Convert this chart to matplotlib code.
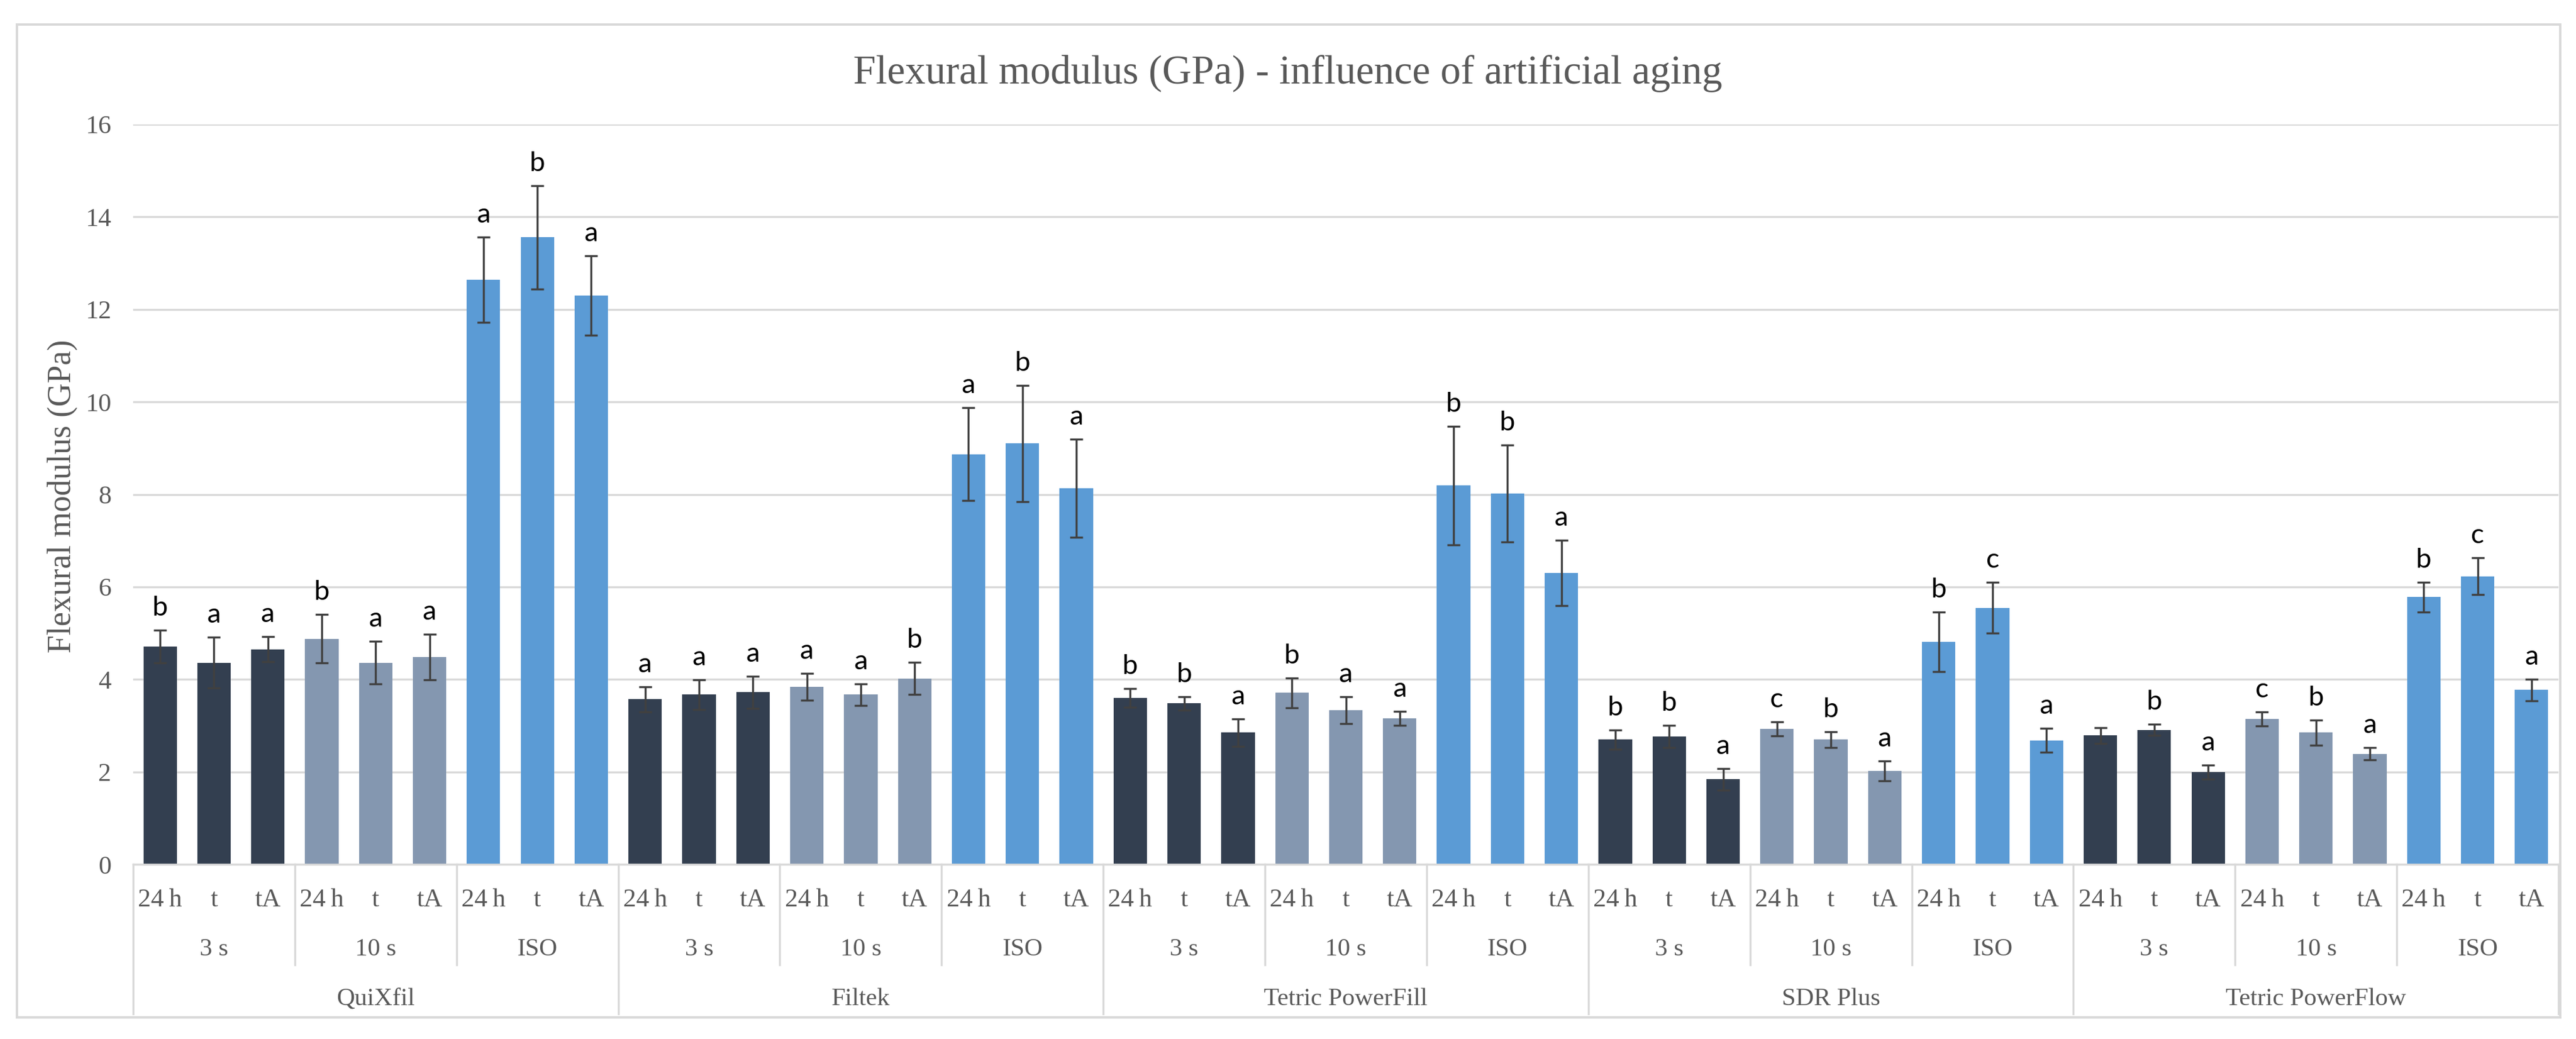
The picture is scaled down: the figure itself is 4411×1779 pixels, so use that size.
import numpy as np
import matplotlib
matplotlib.use("Agg")
import matplotlib.pyplot as plt
import matplotlib.patches as patches
import matplotlib.transforms as mtransforms

# Chart data
materials = ["QuiXfil", "Filtek", "Tetric PowerFill", "SDR Plus", "Tetric PowerFlow"]
curing = ["3 s", "10 s", "ISO"]
aging = ["24\u2009h", "t", "tA"]

# mean flexural modulus (GPa), order: 3 s (24h, t, tA), 10 s (...), ISO (...)
quixfil = [4.71, 4.36, 4.65, 4.88, 4.36, 4.48, 12.64, 13.56, 12.30]
filtek = [3.57, 3.67, 3.72, 3.84, 3.67, 4.02, 8.87, 9.10, 8.13]
powerfill = [3.60, 3.48, 2.85, 3.71, 3.33, 3.16, 8.19, 8.02, 6.30]
sdr_plus = [2.70, 2.76, 1.84, 2.93, 2.70, 2.02, 4.81, 5.55, 2.68]
powerflow = [2.79, 2.91, 2.00, 3.14, 2.85, 2.39, 5.78, 6.23, 3.77]

# standard deviations
quixfil_sd = [0.35, 0.55, 0.27, 0.52, 0.46, 0.49, 0.92, 1.12, 0.86]
filtek_sd = [0.27, 0.32, 0.35, 0.29, 0.23, 0.35, 1.00, 1.26, 1.06]
powerfill_sd = [0.20, 0.15, 0.30, 0.32, 0.29, 0.15, 1.28, 1.05, 0.71]
sdr_plus_sd = [0.21, 0.24, 0.23, 0.15, 0.17, 0.21, 0.64, 0.55, 0.26]
powerflow_sd = [0.17, 0.12, 0.15, 0.15, 0.27, 0.13, 0.32, 0.40, 0.23]

# significance letters
quixfil_sig = ["b", "a", "a", "b", "a", "a", "a", "b", "a"]
filtek_sig = ["a", "a", "a", "a", "a", "b", "a", "b", "a"]
powerfill_sig = ["b", "b", "a", "b", "a", "a", "b", "b", "a"]
sdr_plus_sig = ["b", "b", "a", "c", "b", "a", "b", "c", "a"]
powerflow_sig = ["", "b", "a", "c", "b", "a", "b", "c", "a"]

means = [quixfil, filtek, powerfill, sdr_plus, powerflow]
sds = [quixfil_sd, filtek_sd, powerfill_sd, sdr_plus_sd, powerflow_sd]
sigs = [quixfil_sig, filtek_sig, powerfill_sig, sdr_plus_sig, powerflow_sig]

curing_colors = ["#333F50", "#8497B0", "#5B9BD5"]
grey = "#595959"
line_grey = "#d9d9d9"
serif = ["Liberation Serif", "DejaVu Serif"]

W, H = 4411, 1779
fig = plt.figure(figsize=(W / 100, H / 100), dpi=100)

# plot area in pixel terms
left_px, right_px, top_px, zero_px = 228, 4381, 213, 1480
ax = fig.add_axes([left_px / W, 1 - zero_px / H, (right_px - left_px) / W, (zero_px - top_px) / H])

values = np.concatenate([np.array(m) for m in means])
errors = np.concatenate([np.array(s) for s in sds])
letters = sum(sigs, [])
colors = [curing_colors[(i // 3) % 3] for i in range(len(values))]
x = np.arange(len(values))

ax.bar(x, values, width=0.62, color=colors, zorder=2)
ax.errorbar(x, values, yerr=errors, fmt="none", ecolor="#404040", elinewidth=2.5,
            capsize=8, capthick=2.5, zorder=3)

for xi, v, e, s in zip(x, values, errors, letters):
    if s:
        ax.annotate(s, (xi, v + e), xytext=(0, 18), textcoords="offset points",
                    ha="center", va="baseline", fontsize=34, family=["Lato", "DejaVu Sans"],
                    color="black")

ax.set_xlim(-0.5, len(values) - 0.5)
ax.set_ylim(0, 16)
ax.set_yticks(np.arange(0, 17, 2))
ax.yaxis.grid(True, color=line_grey, linewidth=2.5)
ax.set_axisbelow(True)
for side in ["left", "right", "top"]:
    ax.spines[side].set_visible(False)
ax.spines["bottom"].set_color(line_grey)
ax.spines["bottom"].set_linewidth(2.5)
ax.set_xticks([])
ax.tick_params(axis="y", length=0, pad=27, labelsize=32, labelcolor=grey)
for lab in ax.get_yticklabels():
    lab.set_family(serif)

# multi-level category axis
trans = mtransforms.blended_transform_factory(ax.transData, ax.transAxes)
n_age, n_cur = len(aging), len(curing)
for i in range(len(values)):
    ax.text(i, -0.0568, aging[i % n_age], transform=trans, ha="center", va="baseline",
            fontsize=32, color=grey, family=serif)
for g in range(len(materials) * n_cur):
    ax.text(g * n_age + 1, -0.123, curing[g % n_cur], transform=trans, ha="center",
            va="baseline", fontsize=31, color=grey, family=serif)
for m, name in enumerate(materials):
    ax.text(m * n_age * n_cur + 4, -0.190, name, transform=trans, ha="center",
            va="baseline", fontsize=31, color=grey, family=serif)

for b in range(len(materials) * n_cur + 1):
    xb = b * n_age - 0.5
    y_end = -0.202 if b % n_cur == 0 else -0.136
    ax.plot([xb, xb], [0, y_end], transform=trans, color=line_grey, lw=2.5, clip_on=False)

# title and axis label
fig.text(0.5, 1 - 143 / H, "Flexural modulus (GPa) - influence of artificial aging",
         ha="center", va="baseline", fontsize=50, color=grey, family=serif)
fig.text(107 / W, 1 - 850 / H, "Flexural modulus (GPa)", rotation=90, ha="center",
         va="center", fontsize=40, color=grey, family=serif)

# chart border
fig.patches.append(patches.Rectangle((29 / W, 1 - 1742 / H), (4384 - 29) / W, (1742 - 42) / H,
                                     transform=fig.transFigure, fill=False,
                                     edgecolor=line_grey, linewidth=3))

fig.savefig("out.png", dpi=100, facecolor="white")
